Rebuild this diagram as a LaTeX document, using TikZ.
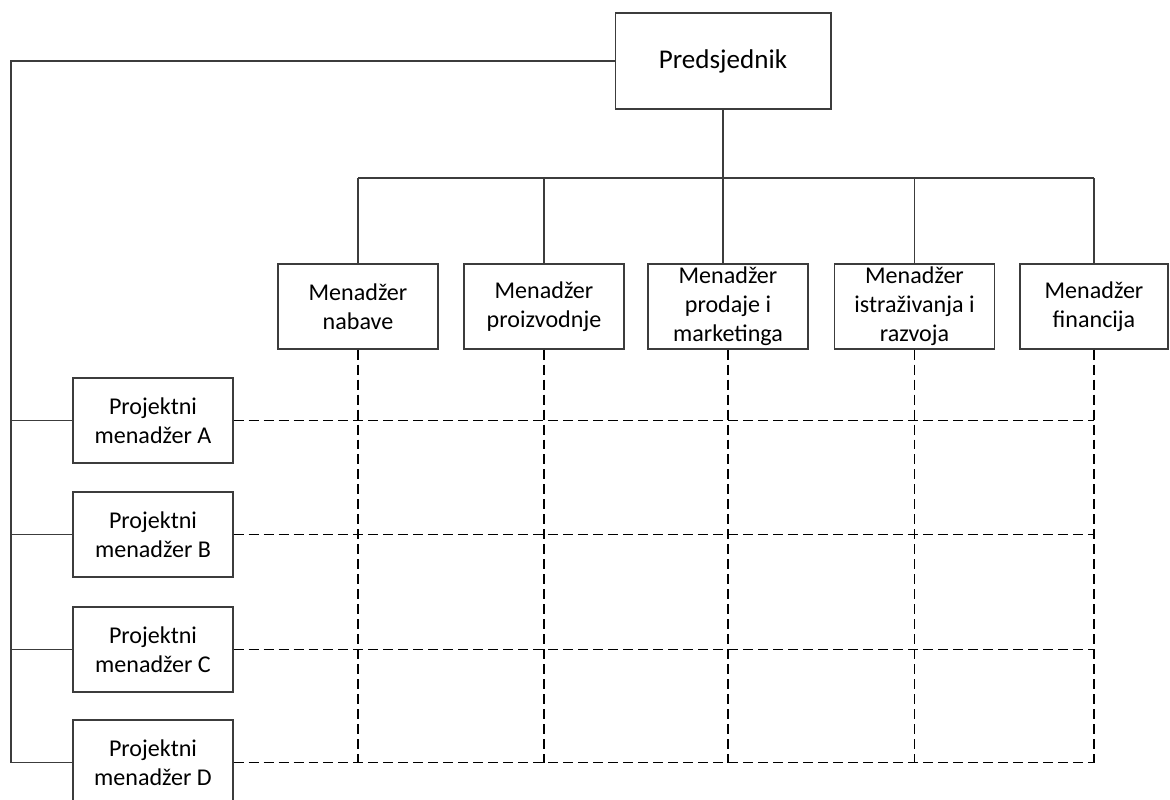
\documentclass[tikz,border=0pt]{standalone}
\usepackage{fontspec}
\setmainfont{Carlito}
\usetikzlibrary{calc, positioning}
\definecolor{linegray}{RGB}{60,60,60}

\begin{document}
\begin{tikzpicture}[x=0.02cm, y=-0.02cm,
    box/.style={draw=linegray, line width=0.6pt, fill=white, align=center, inner sep=0pt,
                minimum width=3.2cm, minimum height=1.7cm,
                font=\fontsize{13.7}{16.5}\selectfont},
    link/.style={draw=linegray, line width=0.6pt},
    grid/.style={draw=black, line width=0.6pt, dash pattern=on 0.2cm off 0.1cm}]
    \useasboundingbox (0,0) rectangle (1170,800);

    % President
    \node[box, minimum width=4.32cm, minimum height=1.92cm,
          font=\fontsize{15.4}{18}\selectfont] (pres) at (723,61) {Predsjednik};

    % Functional managers
    \node[box] (m1) at (358,306.5) {Menadžer\\nabave};
    \node[box] (m2) at (544,306.5) {Menadžer\\proizvodnje};
    \node[box] (m3) at (728,306.5) {Menadžer\\prodaje i\\marketinga};
    \node[box] (m4) at (914.5,306.5) {Menadžer\\istraživanja i\\razvoja};
    \node[box, minimum width=2.96cm] (m5) at (1094,306.5) {Menadžer\\financija};

    % Project managers
    \node[box] (pA) at (153,420.5) {Projektni\\menadžer A};
    \node[box] (pB) at (153,534.5) {Projektni\\menadžer B};
    \node[box] (pC) at (153,649.5) {Projektni\\menadžer C};
    \node[box] (pD) at (153,762.5) {Projektni\\menadžer D};

    % Line of authority
    \coordinate (bar) at (0,178);
    \coordinate (spine) at (11,0);
    \draw[link] (pres.south) -- (pres.south |- m3.north);
    \draw[link] (m1.north |- bar) -- (m5.north |- bar);
    \foreach \m in {m1,m2,m4,m5}
        \draw[link] (\m.north) -- (\m.north |- bar);
    \draw[link] (pres.west) -| (spine |- pD.west) -- (pD.west);
    \foreach \p in {pA,pB,pC}
        \draw[link] (spine |- \p.west) -- (\p.west);

    % Matrix links
    \foreach \m in {m1,m2,m3,m4,m5}
        \draw[grid] (\m.south) -- (\m.south |- pD.east);
    \foreach \p in {pA,pB,pC,pD}
        \draw[grid] (\p.east) -- (m5.south |- \p.east);
\end{tikzpicture}
\end{document}
